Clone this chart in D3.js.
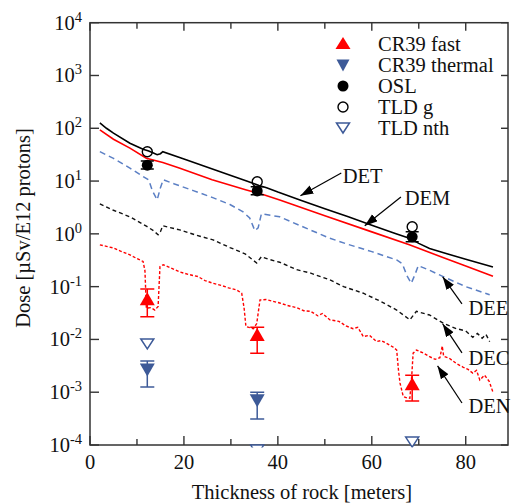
<!DOCTYPE html>
<html><head><meta charset="utf-8">
<script src="https://cdn.jsdelivr.net/npm/d3@7"></script>
<style>html,body{margin:0;padding:0;background:#fff;} svg{display:block;font-family:"Liberation Serif","Times New Roman",serif;}</style>
</head><body><svg id="c" width="511" height="503"></svg>
<script>
// ---------- data ----------
const xTicks = [0, 20, 40, 60, 80];
const xMinorTicks = [10, 30, 50, 70];
const yExponents = [-4, -3, -2, -1, 0, 1, 2, 3, 4];

// curves: [thickness (m), dose]
const DET = [[2.1,126],[3.5,100],[5,81],[8.5,52],[11.3,40],[12.5,37],[13.5,34],[14.3,31.5],[15,33],[15.5,36],[20,26.3],[25,18.3],[30,12.8],[33.5,9.9],[36,8.2],[37.6,7.5],[40,6.2],[45,4.3],[50,3.0],[55,2.1],[60,1.46],[65,1.02],[68,0.83],[70,0.66],[72.3,0.53],[76,0.42],[80,0.33],[85.8,0.235]];
const DEM = [[2.1,93],[5,62],[8.5,42],[12,27],[15.5,22.4],[19,17.6],[26,10.6],[33.3,6.8],[37,5.5],[40.4,4.4],[50,2.2],[60,1.09],[68,0.62],[75,0.36],[80,0.245],[85.8,0.158]];
const DEE = [[2.1,36],[5,27],[8.5,17.6],[11.3,12.2],[12.5,10.5],[13.3,6.5],[14.3,4.4],[15,7.5],[15.6,10.6],[18,8.8],[22,6.6],[26,4.9],[29.8,3.6],[32.6,2.6],[34,2.0],[35.1,1.15],[35.8,1.3],[36.5,2.4],[40.4,2.1],[45,1.4],[51,0.83],[55,0.63],[60,0.46],[65.3,0.32],[66.5,0.27],[67.5,0.16],[68.4,0.116],[69.2,0.17],[69.9,0.25],[72,0.21],[75.2,0.155],[80,0.1],[85.1,0.07]];
const DEC = [[2.1,3.7],[5,2.8],[8.5,2.1],[12.1,1.38],[13.5,1.15],[14.5,0.96],[15,1.1],[15.5,1.42],[19.1,1.19],[22.5,0.95],[26.2,0.77],[29.8,0.55],[33,0.42],[35.5,0.28],[36.5,0.37],[38,0.33],[40.4,0.29],[44,0.21],[47,0.18],[51.1,0.134],[54,0.1],[58.2,0.075],[62,0.052],[65.3,0.036],[68.1,0.0235],[69.5,0.034],[72.3,0.029],[75.2,0.0203],[78,0.016],[80,0.0145],[81.5,0.011],[82.5,0.013],[83.5,0.0105],[84.3,0.0125],[85.1,0.0091]];
const DEN = [[2.1,0.62],[3.5,0.58],[5,0.54],[6.5,0.47],[8.5,0.40],[10,0.34],[11.3,0.30],[11.7,0.2],[12,0.039],[13,0.04],[13.8,0.036],[14.5,0.042],[14.9,0.24],[15.6,0.26],[17,0.23],[19.1,0.19],[21,0.17],[23,0.155],[24.5,0.13],[26.2,0.116],[28,0.105],[29.5,0.095],[31.2,0.087],[32.3,0.075],[32.8,0.04],[33.2,0.0175],[34.8,0.016],[35.5,0.02],[36.2,0.056],[37.5,0.057],[40.4,0.049],[42,0.044],[44,0.04],[45.5,0.035],[47,0.034],[48.5,0.028],[49.5,0.031],[51.1,0.0234],[53,0.022],[54.5,0.018],[56,0.016],[57,0.017],[58.2,0.0113],[59.5,0.012],[61,0.0091],[62,0.0095],[63.1,0.0085],[64.5,0.0072],[65.3,0.0063],[65.7,0.0025],[66,0.0015],[66.7,0.00083],[67.5,0.00078],[68.1,0.00077],[68.5,0.002],[68.8,0.0055],[69.5,0.0063],[71,0.0055],[72.3,0.0047],[73.5,0.0042],[74.5,0.0045],[75,0.0075],[75.3,0.0048],[76.5,0.0044],[78,0.0035],[79.4,0.003],[80.5,0.0027],[81.5,0.0023],[82.3,0.0026],[83,0.0017],[84,0.0021],[85,0.0016],[85.8,0.001]];

// measurements: [thickness, value, low, high]
const cr39Fast    = [[12.2,0.057,0.027,0.09],[35.6,0.012,0.0055,0.017],[68.6,0.0014,0.00068,0.0021]];
const cr39Thermal = [[12.2,0.0027,0.00126,0.0039],[35.6,0.00071,0.00031,0.001]];
const osl         = [[12.2,20,17,24],[35.6,6.5,5.5,7.8],[68.6,0.88,0.71,1.09]];
const tldG        = [[12.2,36],[35.6,9.7],[68.6,1.36]];
const tldNth      = [[12.2,0.0084],[35.6,0.000082],[68.6,0.000116]];

const legendLabels = ["CR39 fast","CR39 thermal","OSL","TLD g","TLD nth"];
const curveLabels  = ["DET","DEM","DEE","DEC","DEN"];
// annotation anchors in data units [thickness, dose]
const labelAt   = [[53.8,9.27],[67.0,3.55],[80.6,0.0291],[80.6,0.00329],[80.6,0.000405]];
const arrowFrom = [[53.5,14.2],[66.2,5.0],[79.2,0.0471],[79.2,0.00555],[79.2,0.000625]];
const arrowTo   = [[44.8,5.25],[58.5,1.42],[75.1,0.153],[75.1,0.0197],[74.0,0.00315]];

// ---------- drawing ----------
const svg = d3.select("#c");
const x = d3.scaleLinear().domain([0, 89]).range([90, 508]);
const y = d3.scaleLog().domain([1e-4, 1e4]).range([445, 22.7]);
const [x0, x1] = x.range(), [yb, yt] = y.range();
const RED = "#ff0000", BLUE = "#3d5a98", LBLUE = "#5b7fc4", AX = "#333";
const FS = 20.5;

svg.append("defs").append("clipPath").attr("id","plot")
  .append("rect").attr("x",x0).attr("y",yt).attr("width",x1-x0).attr("height",yb-yt);
svg.select("defs").append("clipPath").attr("id","mk")
  .append("rect").attr("x",x0-20).attr("y",yt).attr("width",x1-x0+40).attr("height",yb-yt+2.5);
svg.select("defs").append("marker").attr("id","ah")
  .attr("markerUnits","userSpaceOnUse").attr("markerWidth",14).attr("markerHeight",10)
  .attr("refX",13).attr("refY",4.5).attr("orient","auto")
  .append("path").attr("d","M0,0L13,4.5L0,9Z").attr("fill","#000");

// curves
const line = d3.line().x(d => x(d[0])).y(d => y(d[1]));
const gl = svg.append("g").attr("clip-path","url(#plot)").attr("fill","none");
const curves = [
  {d: DEN, c: RED, dash: "3,2", w: 1.4},
  {d: DEC, c: "#111", dash: "4,3", w: 1.4},
  {d: DEE, c: LBLUE, dash: "6,4", w: 1.5},
  {d: DEM, c: RED, dash: null, w: 1.6},
  {d: DET, c: "#000", dash: null, w: 1.6}
];
curves.forEach(cv => {
  gl.append("path").attr("d", line(cv.d)).attr("stroke", cv.c)
    .attr("stroke-width", cv.w).attr("stroke-dasharray", cv.dash);
});

// frame and ticks
svg.append("rect").attr("x",x0).attr("y",yt).attr("width",x1-x0).attr("height",yb-yt)
  .attr("fill","none").attr("stroke",AX).attr("stroke-width",1.5);
const gt = svg.append("g").attr("stroke",AX).attr("stroke-width",1.4);
xTicks.forEach(t => {
  gt.append("line").attr("x1",x(t)).attr("x2",x(t)).attr("y1",yb).attr("y2",yb-9);
  gt.append("line").attr("x1",x(t)).attr("x2",x(t)).attr("y1",yt).attr("y2",yt+8);
});
xMinorTicks.forEach(t => {
  gt.append("line").attr("x1",x(t)).attr("x2",x(t)).attr("y1",yb).attr("y2",yb-6);
  gt.append("line").attr("x1",x(t)).attr("x2",x(t)).attr("y1",yt).attr("y2",yt+6);
});
yExponents.forEach(e => {
  const v = Math.pow(10, e);
  gt.append("line").attr("x1",x0).attr("x2",x0+9).attr("y1",y(v)).attr("y2",y(v));
  gt.append("line").attr("x1",x1).attr("x2",x1-7).attr("y1",y(v)).attr("y2",y(v));
});

// tick labels
const gx = svg.append("g").attr("font-size",FS).attr("fill","#111").attr("text-anchor","middle");
xTicks.forEach(t => gx.append("text").attr("x",x(t)).attr("y",yb+23.5).text(t));
const gy = svg.append("g").attr("fill","#111").attr("text-anchor","end");
yExponents.forEach(e => {
  const tx = gy.append("text").attr("x",x0-8).attr("y",y(Math.pow(10,e))+7).attr("font-size",FS);
  tx.append("tspan").text("10");
  tx.append("tspan").attr("font-size",14.5).attr("dy",-8).text(e);
});

// axis titles
svg.append("text").attr("x",302).attr("y",499).attr("text-anchor","middle")
  .attr("font-size",FS).attr("fill","#111").text("Thickness of rock [meters]");
svg.append("text").attr("transform","translate(30,228) rotate(-90)").attr("text-anchor","middle")
  .attr("font-size",FS).attr("fill","#111").text("Dose [\u00B5Sv/E12 protons]");

// marker shapes
const triUp = (cx,cy,w,h) => `M${cx},${cy-h*0.55}L${cx+w/2},${cy+h*0.45}L${cx-w/2},${cy+h*0.45}Z`;
const triDn = (cx,cy,w,h) => `M${cx-w/2},${cy-h*0.45}L${cx+w/2},${cy-h*0.45}L${cx},${cy+h*0.55}Z`;
function errBar(g, d, color, cap) {
  const cx = x(d[0]);
  g.append("line").attr("x1",cx).attr("x2",cx).attr("y1",y(d[2])).attr("y2",y(d[3])).attr("stroke",color).attr("stroke-width",1.5);
  [d[2], d[3]].forEach(v => g.append("line").attr("x1",cx-cap/2).attr("x2",cx+cap/2)
    .attr("y1",y(v)).attr("y2",y(v)).attr("stroke",color).attr("stroke-width",1.5));
}
const gm = svg.append("g").attr("clip-path","url(#mk)");
cr39Fast.forEach(d => { errBar(gm,d,RED,14); gm.append("path").attr("d",triUp(x(d[0]),y(d[1]),15,13)).attr("fill",RED); });
cr39Thermal.forEach(d => { errBar(gm,d,BLUE,14); gm.append("path").attr("d",triDn(x(d[0]),y(d[1]),15,13)).attr("fill",BLUE); });
osl.forEach(d => { errBar(gm,d,"#000",13); gm.append("circle").attr("cx",x(d[0])).attr("cy",y(d[1])).attr("r",5.5).attr("fill","#000"); });
tldG.forEach(d => gm.append("circle").attr("cx",x(d[0])).attr("cy",y(d[1])).attr("r",5).attr("fill","none").attr("stroke","#000").attr("stroke-width",1.4));
tldNth.forEach(d => gm.append("path").attr("d",triDn(x(d[0]),y(d[1]),13,10)).attr("fill","#fff").attr("stroke",BLUE).attr("stroke-width",1.5));

// legend
const legRows = [43.5, 65, 86, 107, 127.5];
const lg = svg.append("g");
const lx = 343;
lg.append("path").attr("d",triUp(lx,legRows[0],15,12)).attr("fill",RED);
lg.append("path").attr("d",triDn(lx,legRows[1],13,12)).attr("fill",BLUE);
lg.append("circle").attr("cx",lx).attr("cy",legRows[2]).attr("r",5.5).attr("fill","#000");
lg.append("circle").attr("cx",lx).attr("cy",legRows[3]).attr("r",5).attr("fill","none").attr("stroke","#000").attr("stroke-width",1.4);
lg.append("path").attr("d",triDn(lx,legRows[4],13,10)).attr("fill","#fff").attr("stroke",BLUE).attr("stroke-width",1.5);
legendLabels.forEach((s,i) => lg.append("text").attr("x",378).attr("y",legRows[i]+7)
  .attr("font-size",FS).attr("fill","#111").text(s));

// curve annotations
const ga = svg.append("g");
curveLabels.forEach((s,i) => {
  ga.append("line").attr("x1",x(arrowFrom[i][0])).attr("y1",y(arrowFrom[i][1]))
    .attr("x2",x(arrowTo[i][0])).attr("y2",y(arrowTo[i][1]))
    .attr("stroke","#000").attr("stroke-width",1.2).attr("marker-end","url(#ah)");
  ga.append("text").attr("x",x(labelAt[i][0])).attr("y",y(labelAt[i][1]))
    .attr("font-size",FS).attr("fill","#111").text(s);
});
</script></body></html>
